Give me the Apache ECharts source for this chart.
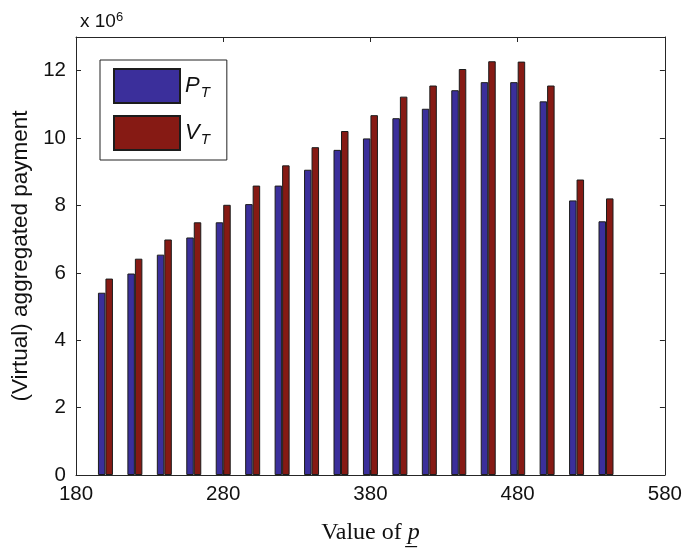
<!DOCTYPE html>
<html>
<head>
<meta charset="utf-8">
<script src="https://cdn.jsdelivr.net/npm/echarts@6/dist/echarts.min.js"></script>
<style>html,body{margin:0;padding:0;background:#fff;}#c{width:685px;height:554px;}</style>
</head>
<body>
<div id="c"></div>
<script>
// Data (values in units of 10^6)
const pValues = [200, 220, 240, 260, 280, 300, 320, 340, 360, 380, 400, 420, 440, 460, 480, 500, 520, 540];
const PT = [5.41, 5.98, 6.54, 7.05, 7.50, 8.04, 8.59, 9.06, 9.65, 9.99, 10.59, 10.87, 11.42, 11.66, 11.66, 11.09, 8.15, 7.53];
const VT = [5.83, 6.42, 6.99, 7.50, 8.02, 8.59, 9.19, 9.73, 10.21, 10.68, 11.23, 11.56, 12.05, 12.28, 12.27, 11.56, 8.77, 8.21];
const xTicks = [180, 280, 380, 480, 580];
const yTicks = [0, 2, 4, 6, 8, 10, 12];

const chart = echarts.init(document.getElementById('c'));
const axisColor = '#262626';
const sansFont = '"Liberation Sans", Arial, sans-serif';
const serifFont = '"Liberation Serif", "DejaVu Serif", serif';

const xBase = {
  type: 'value', min: xTicks[0], max: xTicks[xTicks.length - 1], interval: 100,
  splitLine: { show: false },
  axisLine: { show: true, onZero: false, lineStyle: { color: axisColor, width: 1 } },
  axisTick: { show: true, inside: true, length: 5, lineStyle: { color: axisColor } }
};
const yBase = {
  type: 'value', min: 0, max: 13, interval: 2,
  splitLine: { show: false },
  axisLine: { show: true, onZero: false, lineStyle: { color: axisColor, width: 1 } },
  axisTick: { show: true, inside: true, length: 5, lineStyle: { color: axisColor } }
};

chart.setOption({
  animation: false,
  backgroundColor: '#fff',
  grid: { left: 76, right: 18, top: 37, bottom: 79, containLabel: false },
  title: {
    text: 'x 10{sup|6}',
    left: 75, top: 6,
    textStyle: {
      fontFamily: sansFont, fontSize: 19, fontWeight: 'normal', color: '#111',
      rich: { sup: { fontFamily: sansFont, fontSize: 13, color: '#111', verticalAlign: 'top', padding: [0, 0, 8, 0] } }
    }
  },
  legend: {
    left: 100, top: 60, orient: 'vertical',
    itemWidth: 66, itemHeight: 34, itemGap: 11,
    padding: [8, 17, 9, 13],
    borderColor: '#222', borderWidth: 1, backgroundColor: '#fff',
    icon: 'rect',
    selectedMode: false,
    formatter: function (name) { return '{i|' + name.charAt(0) + '}{s|T}'; },
    textStyle: {
      fontFamily: sansFont, color: '#111',
      rich: {
        i: { fontFamily: sansFont, fontSize: 22, fontStyle: 'italic', color: '#111' },
        s: { fontFamily: sansFont, fontSize: 15, fontStyle: 'italic', color: '#111', padding: [14, 0, 0, 1] }
      }
    },
    data: ['PT', 'VT']
  },
  xAxis: [
    Object.assign({}, xBase, {
      position: 'bottom',
      name: 'Value of {p|p\u0332}',
      nameLocation: 'middle', nameGap: 46,
      nameTextStyle: {
        fontFamily: serifFont, fontSize: 24, color: '#111',
        rich: { p: { fontFamily: serifFont, fontSize: 24, fontStyle: 'italic', color: '#111' } }
      },
      axisLabel: { show: true, fontFamily: sansFont, fontSize: 20.5, color: '#111', margin: 9 }
    }),
    Object.assign({}, xBase, { position: 'top', axisLabel: { show: false } })
  ],
  yAxis: [
    Object.assign({}, yBase, {
      position: 'left',
      name: '(Virtual) aggregated payment',
      nameLocation: 'middle', nameGap: 42,
      nameTextStyle: { fontFamily: sansFont, fontSize: 22.5, color: '#111' },
      axisLabel: {
        show: true, fontFamily: sansFont, fontSize: 20.5, color: '#111', margin: 10,
        formatter: function (v) { return yTicks.indexOf(v) >= 0 ? String(v) : ''; }
      }
    }),
    Object.assign({}, yBase, { position: 'right', axisLabel: { show: false } })
  ],
  series: [
    {
      name: 'PT', type: 'bar', xAxisIndex: 0, yAxisIndex: 0,
      barWidth: 7.5, barGap: '0%',
      itemStyle: { color: '#3b2f9b', borderColor: '#1c1c1c', borderWidth: 1 },
      data: pValues.map((p, i) => [p, PT[i]])
    },
    {
      name: 'VT', type: 'bar', xAxisIndex: 0, yAxisIndex: 0,
      barWidth: 7.5, barGap: '0%',
      itemStyle: { color: '#861a14', borderColor: '#1c1c1c', borderWidth: 1 },
      data: pValues.map((p, i) => [p, VT[i]])
    }
  ]
});
</script>
</body>
</html>
